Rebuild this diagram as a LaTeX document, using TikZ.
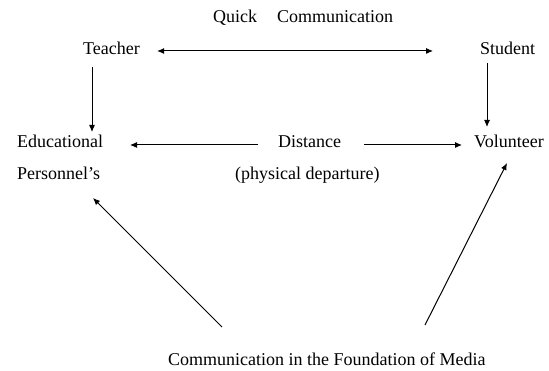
\documentclass[tikz,border=0pt]{standalone}
\usepackage{fontspec}
\setmainfont{Liberation Serif}
\newfontfamily\tnrfont{Liberation Serif}
\usetikzlibrary{arrows.meta}
\begin{document}
\begin{tikzpicture}[x=1pt,y=1pt,
  lbl/.style={inner sep=0pt,anchor=base west,font=\tnrfont\fontsize{18}{20}\selectfont},
  arr/.style={line width=1pt,-{Latex[length=7pt,width=6pt]}},
  darr/.style={line width=1pt,{Latex[length=7pt,width=6pt]}-{Latex[length=7pt,width=6pt]}}]
\useasboundingbox[fill=white] (0,0) rectangle (549,-371);
\node[lbl] (quick) at (213,-23) {Quick\hspace{20pt}Communication};
\node[lbl] (teacher) at (83,-55) {Teacher};
\node[lbl] (student) at (480,-55) {Student};
\node[lbl] (edu) at (17,-148) {Educational};
\node[lbl] (pers) at (17,-180) {Personnel’s};
\node[lbl] (dist) at (278,-148) {Distance};
\node[lbl] (phys) at (235,-180) {(physical departure)};
\node[lbl] (vol) at (474,-148) {Volunteer};
\node[lbl] (media) at (168,-366) {Communication in the Foundation of Media};
\draw[darr] ([shift={(17pt,4pt)}]teacher.base east) -- ([shift={(-47pt,4pt)}]student.base west);
\draw[arr] ([shift={(9pt,-12pt)}]teacher.base west) -- ([shift={(75pt,16pt)}]edu.base west);
\draw[arr] ([shift={(7pt,-8pt)}]student.base west) -- ([shift={(13pt,21pt)}]vol.base west);
\draw[arr] ([shift={(-20pt,3pt)}]dist.base west) -- ([shift={(113pt,3pt)}]edu.base west);
\draw[arr] ([shift={(23pt,3pt)}]dist.base east) -- ([shift={(-12pt,3pt)}]vol.base west);
\draw[arr] ([shift={(54pt,39pt)}]media.base west) -- ([shift={(76pt,-18pt)}]pers.base west);
\draw[arr] ([shift={(257pt,41pt)}]media.base west) -- ([shift={(33pt,-15pt)}]vol.base west);
\end{tikzpicture}
\end{document}
